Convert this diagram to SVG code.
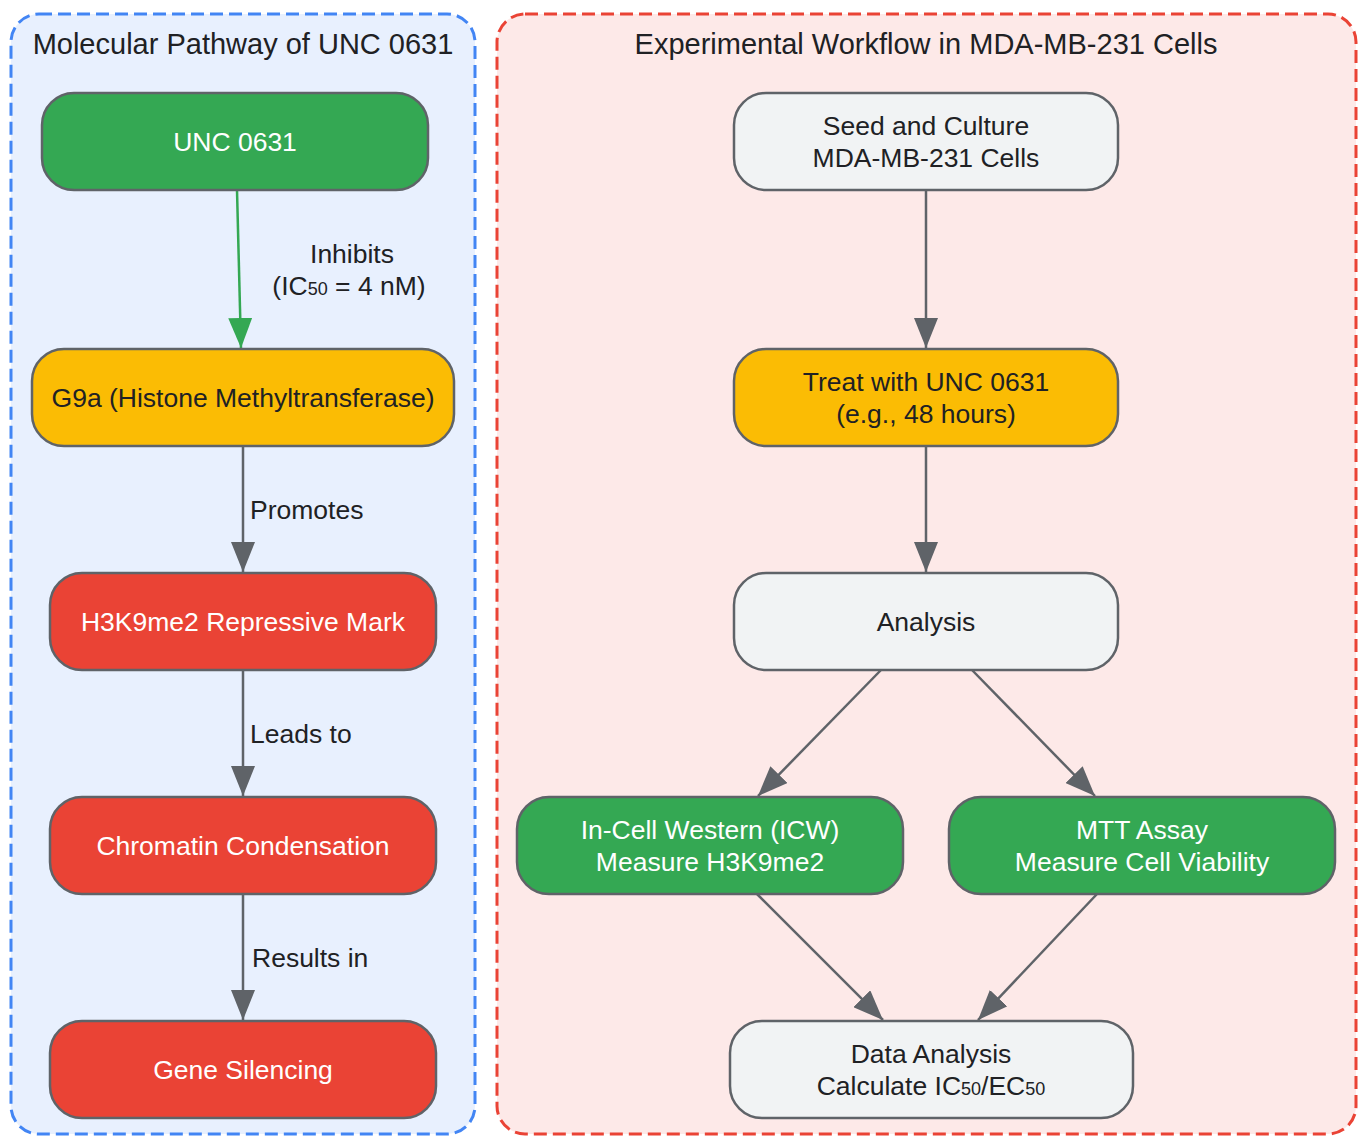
<svg xmlns="http://www.w3.org/2000/svg" width="1362" height="1136" viewBox="0 0 1362 1136">
<defs>
<marker id="ag" markerUnits="userSpaceOnUse" markerWidth="32" markerHeight="24" refX="30" refY="12" orient="auto"><path d="M0,0 L30,12 L0,24 z" fill="#5f6368"/></marker>
<marker id="agr" markerUnits="userSpaceOnUse" markerWidth="32" markerHeight="24" refX="30" refY="12" orient="auto"><path d="M0,0 L30,12 L0,24 z" fill="#34a853"/></marker>
<style>
text{font-family:"Liberation Sans",Arial,sans-serif;font-size:26.5px;text-anchor:middle;fill:#202124}
.t{font-size:29px}
.w{fill:#ffffff}
.n{stroke:#5f6368;stroke-width:2.5}
.g{fill:#34a853}.y{fill:#fbbc04}.r{fill:#ea4335}.l{fill:#f1f3f4}
.e{stroke:#5f6368;stroke-width:2.5;fill:none;marker-end:url(#ag)}
.lab{text-anchor:start}
.s{font-size:18px}
</style>
</defs>
<rect width="1362" height="1136" fill="#ffffff"/>
<g id="cluster-pathway">
<rect x="11" y="14" width="464" height="1120" rx="28" fill="#e8f0fe" stroke="#4285f4" stroke-width="3" stroke-dasharray="13,6"/>
<text class="t" x="243" y="54">Molecular Pathway of UNC 0631</text>
</g>
<g id="cluster-workflow">
<rect x="497" y="14" width="859" height="1120" rx="28" fill="#fde9e8" stroke="#ea4335" stroke-width="3" stroke-dasharray="13,6"/>
<text class="t" x="926" y="54">Experimental Workflow in MDA-MB-231 Cells</text>
</g>
<g id="connectors">
<path d="M237,190 L241,348" stroke="#34a853" stroke-width="2.5" fill="none" marker-end="url(#agr)"/>
<path class="e" d="M243,446 L243,572"/>
<path class="e" d="M243,670 L243,796"/>
<path class="e" d="M243,894 L243,1020"/>
<path class="e" d="M926,190 L926,348"/>
<path class="e" d="M926,446 L926,572"/>
<path class="e" d="M881,670 L758,796"/>
<path class="e" d="M972,670 L1095,796"/>
<path class="e" d="M757,894 L883,1020"/>
<path class="e" d="M1097,894 L978,1020"/>
<text x="352" y="263">Inhibits</text>
<text x="349" y="295">(IC<tspan class="s">50</tspan> = 4 nM)</text>
<text class="lab" x="250" y="519">Promotes</text>
<text class="lab" x="250" y="743">Leads to</text>
<text class="lab" x="252" y="967">Results in</text>
</g>
<g id="node-unc0631">
<rect class="n g" x="42" y="93" width="386" height="97" rx="32"/>
<text class="w" x="235" y="151">UNC 0631</text>
</g>
<g id="node-g9a">
<rect class="n y" x="32" y="349" width="422" height="97" rx="32"/>
<text x="243" y="407">G9a (Histone Methyltransferase)</text>
</g>
<g id="node-h3k9me2">
<rect class="n r" x="50" y="573" width="386" height="97" rx="32"/>
<text class="w" x="243" y="631">H3K9me2 Repressive Mark</text>
</g>
<g id="node-chromatin">
<rect class="n r" x="50" y="797" width="386" height="97" rx="32"/>
<text class="w" x="243" y="855">Chromatin Condensation</text>
</g>
<g id="node-silencing">
<rect class="n r" x="50" y="1021" width="386" height="97" rx="32"/>
<text class="w" x="243" y="1079">Gene Silencing</text>
</g>
<g id="node-seed">
<rect class="n l" x="734" y="93" width="384" height="97" rx="32"/>
<text x="926" y="135">Seed and Culture</text>
<text x="926" y="167">MDA-MB-231 Cells</text>
</g>
<g id="node-treat">
<rect class="n y" x="734" y="349" width="384" height="97" rx="32"/>
<text x="926" y="391">Treat with UNC 0631</text>
<text x="926" y="423">(e.g., 48 hours)</text>
</g>
<g id="node-analysis">
<rect class="n l" x="734" y="573" width="384" height="97" rx="32"/>
<text x="926" y="631">Analysis</text>
</g>
<g id="node-icw">
<rect class="n g" x="517" y="797" width="386" height="97" rx="32"/>
<text class="w" x="710" y="839">In-Cell Western (ICW)</text>
<text class="w" x="710" y="871">Measure H3K9me2</text>
</g>
<g id="node-mtt">
<rect class="n g" x="949" y="797" width="386" height="97" rx="32"/>
<text class="w" x="1142" y="839">MTT Assay</text>
<text class="w" x="1142" y="871">Measure Cell Viability</text>
</g>
<g id="node-data">
<rect class="n l" x="730" y="1021" width="403" height="97" rx="32"/>
<text x="931" y="1063">Data Analysis</text>
<text x="931" y="1095">Calculate IC<tspan class="s">50</tspan>/EC<tspan class="s">50</tspan></text>
</g>
</svg>
